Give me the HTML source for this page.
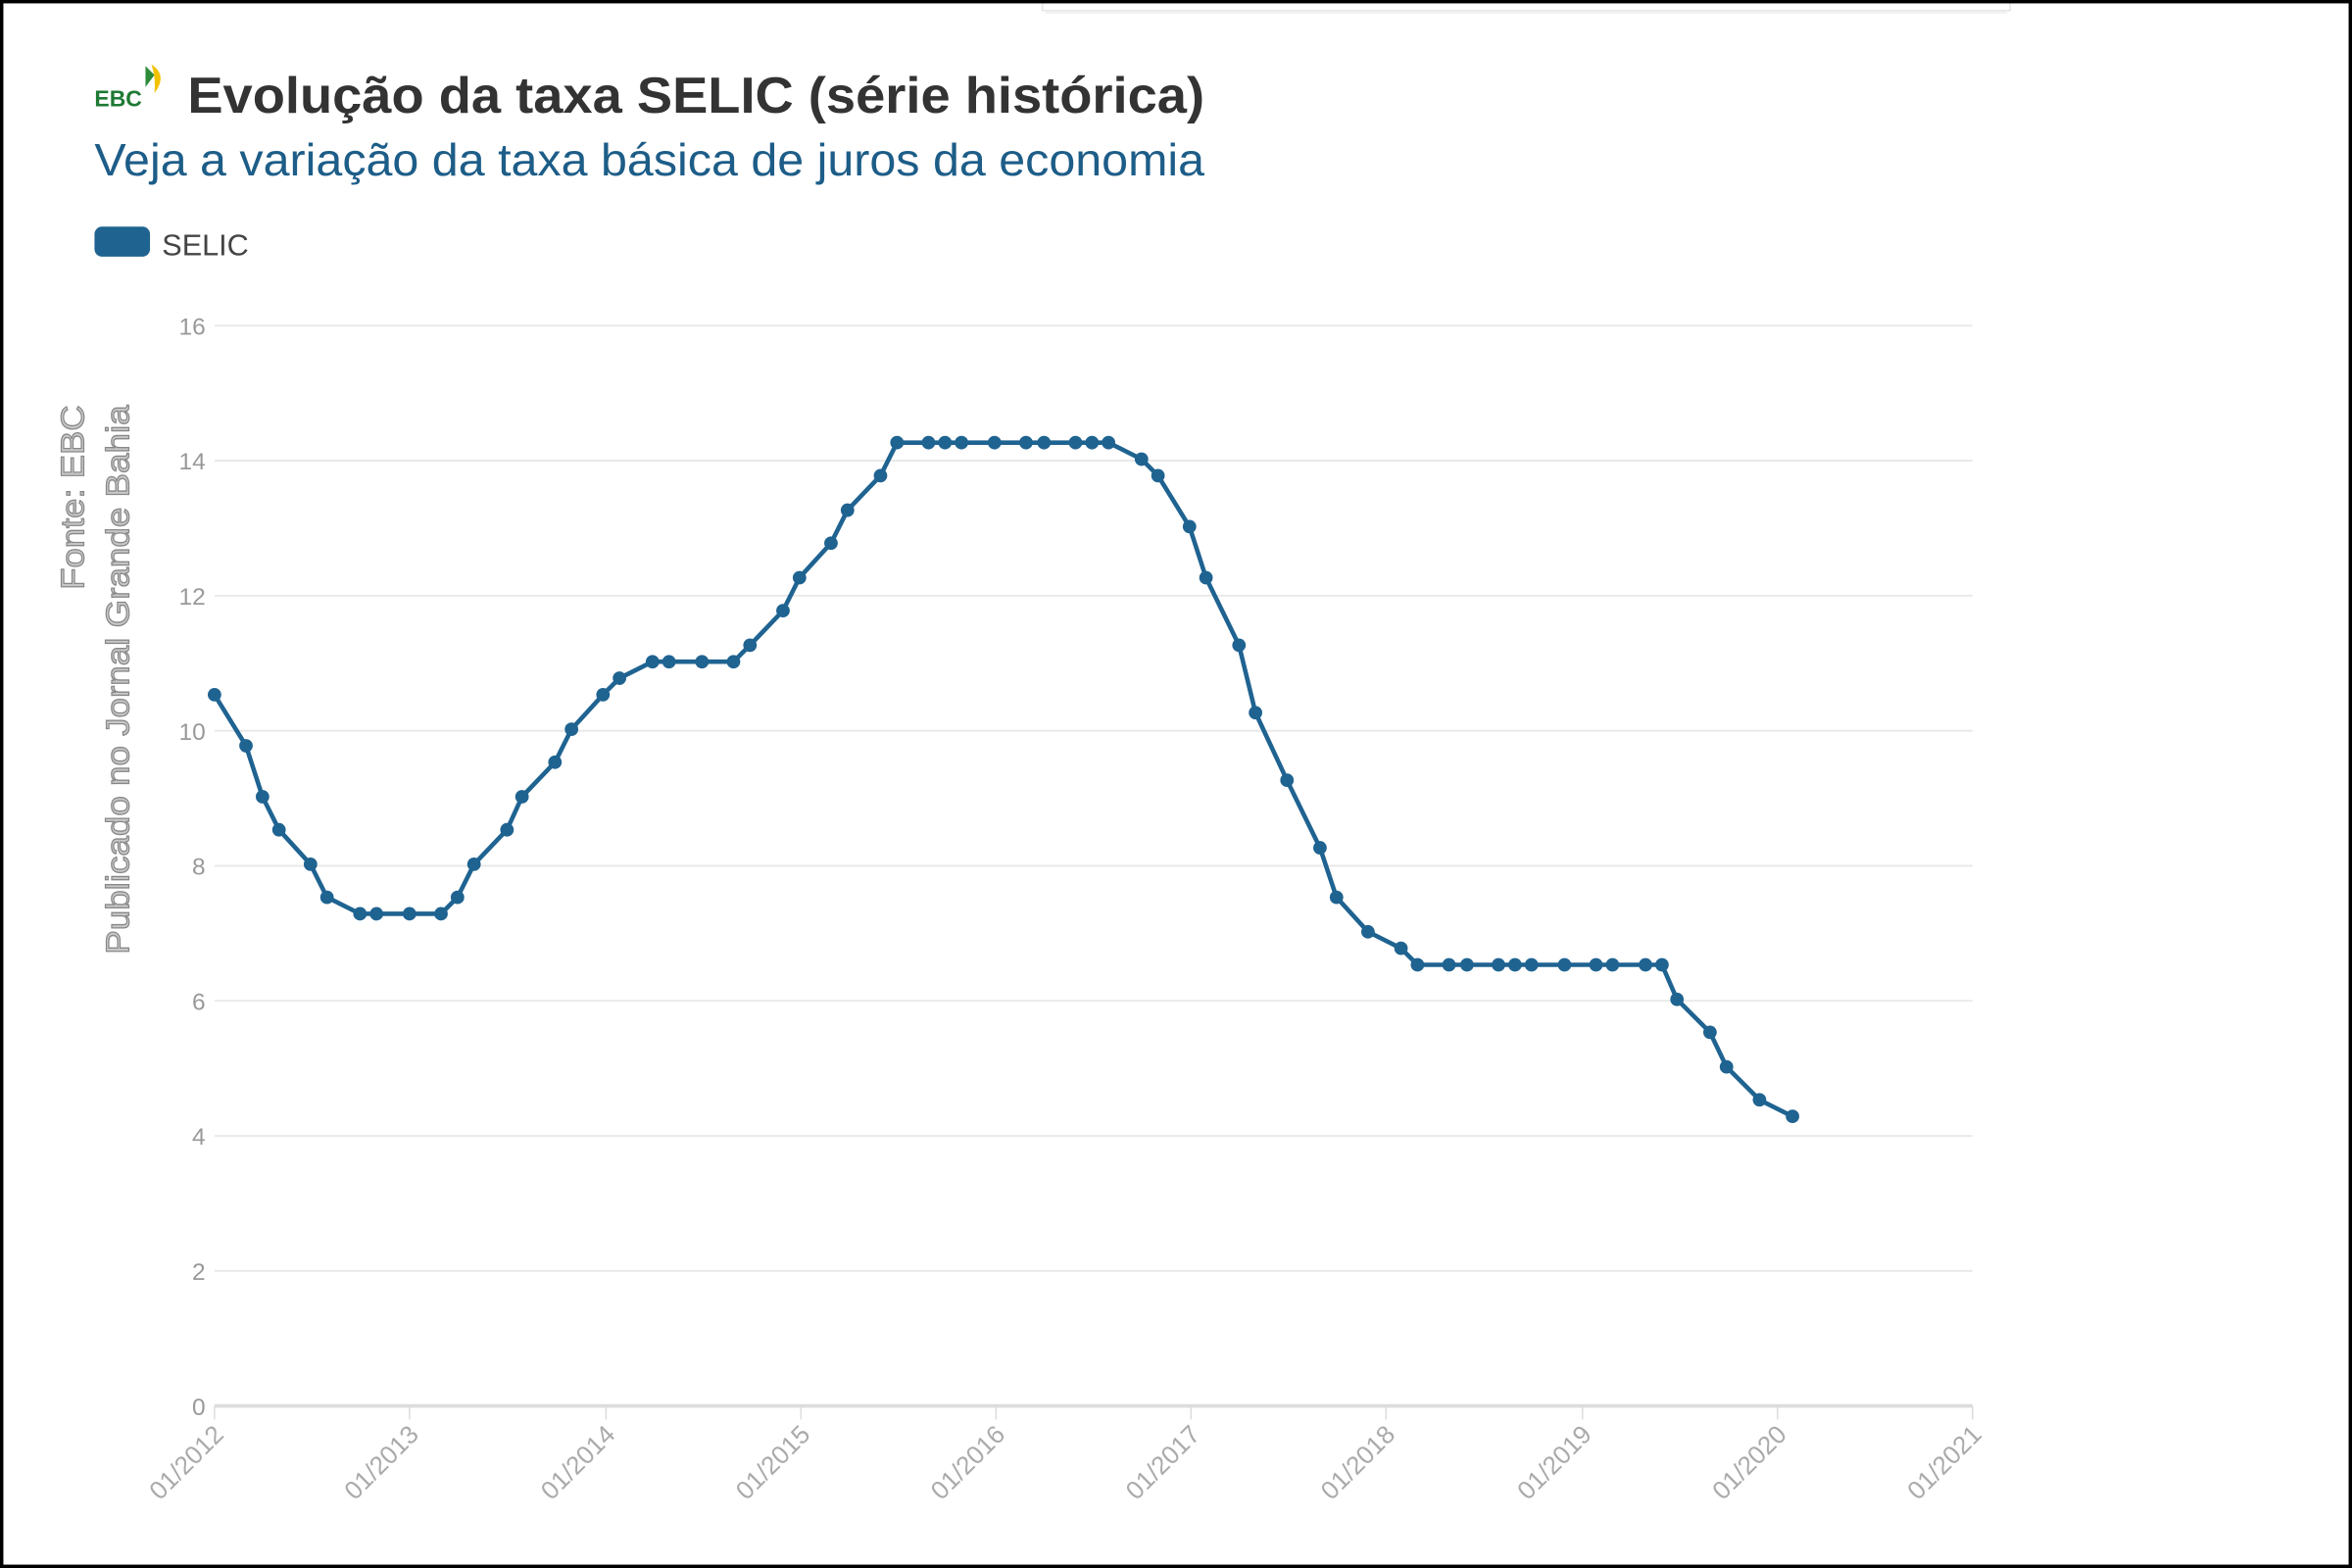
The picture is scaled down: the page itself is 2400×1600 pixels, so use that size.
<!DOCTYPE html>
<html><head><meta charset="utf-8"><style>
html,body{margin:0;padding:0;background:#fff;}
svg{display:block;}
text{font-family:"Liberation Sans",sans-serif;}
</style></head><body>
<svg width="2400" height="1600" viewBox="0 0 1568 1045" preserveAspectRatio="none" xmlns="http://www.w3.org/2000/svg">
<rect x="0" y="0" width="1568" height="1045" fill="#fff"/>
<rect x="695" y="-2" width="645" height="9" fill="#fff" stroke="#e4e4e4" stroke-width="1"/>
<rect x="697" y="7" width="641" height="2" fill="#f0f0f0"/>
<text x="63" y="71" font-size="15" font-weight="bold" fill="#1e7a34">EBC</text>
<path d="M97 44 L103 50 L97 58 Z" fill="#2e8b3a"/>
<path d="M101 43 Q112 50 103 62 Q104 52 101 43 Z" fill="#f2c200"/>
<text x="125" y="75" font-size="34" font-weight="bold" fill="#333" textLength="678" lengthAdjust="spacingAndGlyphs">Evolução da taxa SELIC (série histórica)</text>
<text x="63" y="117" font-size="30" fill="#1d5d88" textLength="740" lengthAdjust="spacingAndGlyphs">Veja a variação da taxa básica de juros da economia</text>
<rect x="63" y="151" width="37" height="20" rx="5" fill="#1f6391"/>
<text x="108" y="170" font-size="20" fill="#444">SELIC</text>
<text transform="translate(56,393) rotate(-90)" font-size="22" fill="#c8c8c8" stroke="#888" stroke-width="0.8" textLength="123" lengthAdjust="spacingAndGlyphs">Fonte: EBC</text>
<text transform="translate(86,636) rotate(-90)" font-size="22" fill="#c8c8c8" stroke="#888" stroke-width="0.8" textLength="366" lengthAdjust="spacingAndGlyphs">Publicado no Jornal Grande Bahia</text>
<g stroke="#e8e8e8" stroke-width="1.2">
<line x1="143" x2="1315" y1="217" y2="217"/><line x1="143" x2="1315" y1="307" y2="307"/>
<line x1="143" x2="1315" y1="397" y2="397"/><line x1="143" x2="1315" y1="487" y2="487"/>
<line x1="143" x2="1315" y1="577" y2="577"/><line x1="143" x2="1315" y1="667" y2="667"/>
<line x1="143" x2="1315" y1="757" y2="757"/><line x1="143" x2="1315" y1="847" y2="847"/>
</g>
<line x1="143" x2="1315" y1="937" y2="937" stroke="#ddd" stroke-width="2.5"/>
<g stroke="#ddd" stroke-width="1">
<line x1="143" x2="143" y1="937" y2="946"/><line x1="273" x2="273" y1="937" y2="946"/>
<line x1="404" x2="404" y1="937" y2="946"/><line x1="534" x2="534" y1="937" y2="946"/>
<line x1="664" x2="664" y1="937" y2="946"/><line x1="794" x2="794" y1="937" y2="946"/>
<line x1="924" x2="924" y1="937" y2="946"/><line x1="1055" x2="1055" y1="937" y2="946"/>
<line x1="1185" x2="1185" y1="937" y2="946"/><line x1="1315" x2="1315" y1="937" y2="946"/>
</g>
<g font-size="16" fill="#999" text-anchor="end">
<text x="137" y="223">16</text><text x="137" y="313">14</text><text x="137" y="403">12</text>
<text x="137" y="493">10</text><text x="137" y="583">8</text><text x="137" y="673">6</text>
<text x="137" y="763">4</text><text x="137" y="853">2</text><text x="137" y="943">0</text>
</g>
<g font-size="17" fill="#aaa" text-anchor="end">
<text transform="translate(150,957) rotate(-45)">01/2012</text>
<text transform="translate(280,957) rotate(-45)">01/2013</text>
<text transform="translate(411,957) rotate(-45)">01/2014</text>
<text transform="translate(541,957) rotate(-45)">01/2015</text>
<text transform="translate(671,957) rotate(-45)">01/2016</text>
<text transform="translate(801,957) rotate(-45)">01/2017</text>
<text transform="translate(931,957) rotate(-45)">01/2018</text>
<text transform="translate(1062,957) rotate(-45)">01/2019</text>
<text transform="translate(1192,957) rotate(-45)">01/2020</text>
<text transform="translate(1322,957) rotate(-45)">01/2021</text>
</g>
<polyline fill="none" stroke="#1f6391" stroke-width="3" stroke-linejoin="round" stroke-linecap="round" points="143,463 164,497 175,531 186,553 207,576 218,598 240,609 251,609 273,609 294,609 305,598 316,576 338,553 348,531 370,508 381,486 402,463 413,452 435,441 446,441 468,441 489,441 500,430 522,407 533,385 554,362 565,340 587,317 598,295 619,295 630,295 641,295 663,295 684,295 696,295 717,295 728,295 739,295 761,306 772,317 793,351 804,385 826,430 837,475 858,520 880,565 891,598 912,621 934,632 945,643 966,643 978,643 999,643 1010,643 1021,643 1043,643 1064,643 1075,643 1097,643 1108,643 1118,666 1140,688 1151,711 1173,733 1195,744"/>
<g fill="#1f6391">
<circle cx="143" cy="463" r="4.5"/><circle cx="164" cy="497" r="4.5"/><circle cx="175" cy="531" r="4.5"/><circle cx="186" cy="553" r="4.5"/><circle cx="207" cy="576" r="4.5"/><circle cx="218" cy="598" r="4.5"/><circle cx="240" cy="609" r="4.5"/><circle cx="251" cy="609" r="4.5"/><circle cx="273" cy="609" r="4.5"/><circle cx="294" cy="609" r="4.5"/><circle cx="305" cy="598" r="4.5"/><circle cx="316" cy="576" r="4.5"/><circle cx="338" cy="553" r="4.5"/><circle cx="348" cy="531" r="4.5"/><circle cx="370" cy="508" r="4.5"/><circle cx="381" cy="486" r="4.5"/><circle cx="402" cy="463" r="4.5"/><circle cx="413" cy="452" r="4.5"/><circle cx="435" cy="441" r="4.5"/><circle cx="446" cy="441" r="4.5"/><circle cx="468" cy="441" r="4.5"/><circle cx="489" cy="441" r="4.5"/><circle cx="500" cy="430" r="4.5"/><circle cx="522" cy="407" r="4.5"/><circle cx="533" cy="385" r="4.5"/><circle cx="554" cy="362" r="4.5"/><circle cx="565" cy="340" r="4.5"/><circle cx="587" cy="317" r="4.5"/><circle cx="598" cy="295" r="4.5"/><circle cx="619" cy="295" r="4.5"/><circle cx="630" cy="295" r="4.5"/><circle cx="641" cy="295" r="4.5"/><circle cx="663" cy="295" r="4.5"/><circle cx="684" cy="295" r="4.5"/><circle cx="696" cy="295" r="4.5"/><circle cx="717" cy="295" r="4.5"/><circle cx="728" cy="295" r="4.5"/><circle cx="739" cy="295" r="4.5"/><circle cx="761" cy="306" r="4.5"/><circle cx="772" cy="317" r="4.5"/><circle cx="793" cy="351" r="4.5"/><circle cx="804" cy="385" r="4.5"/><circle cx="826" cy="430" r="4.5"/><circle cx="837" cy="475" r="4.5"/><circle cx="858" cy="520" r="4.5"/><circle cx="880" cy="565" r="4.5"/><circle cx="891" cy="598" r="4.5"/><circle cx="912" cy="621" r="4.5"/><circle cx="934" cy="632" r="4.5"/><circle cx="945" cy="643" r="4.5"/><circle cx="966" cy="643" r="4.5"/><circle cx="978" cy="643" r="4.5"/><circle cx="999" cy="643" r="4.5"/><circle cx="1010" cy="643" r="4.5"/><circle cx="1021" cy="643" r="4.5"/><circle cx="1043" cy="643" r="4.5"/><circle cx="1064" cy="643" r="4.5"/><circle cx="1075" cy="643" r="4.5"/><circle cx="1097" cy="643" r="4.5"/><circle cx="1108" cy="643" r="4.5"/><circle cx="1118" cy="666" r="4.5"/><circle cx="1140" cy="688" r="4.5"/><circle cx="1151" cy="711" r="4.5"/><circle cx="1173" cy="733" r="4.5"/><circle cx="1195" cy="744" r="4.5"/>
</g>
<rect x="1" y="1" width="1566" height="1043" fill="none" stroke="#000" stroke-width="2.5"/>
</svg>
</body></html>
